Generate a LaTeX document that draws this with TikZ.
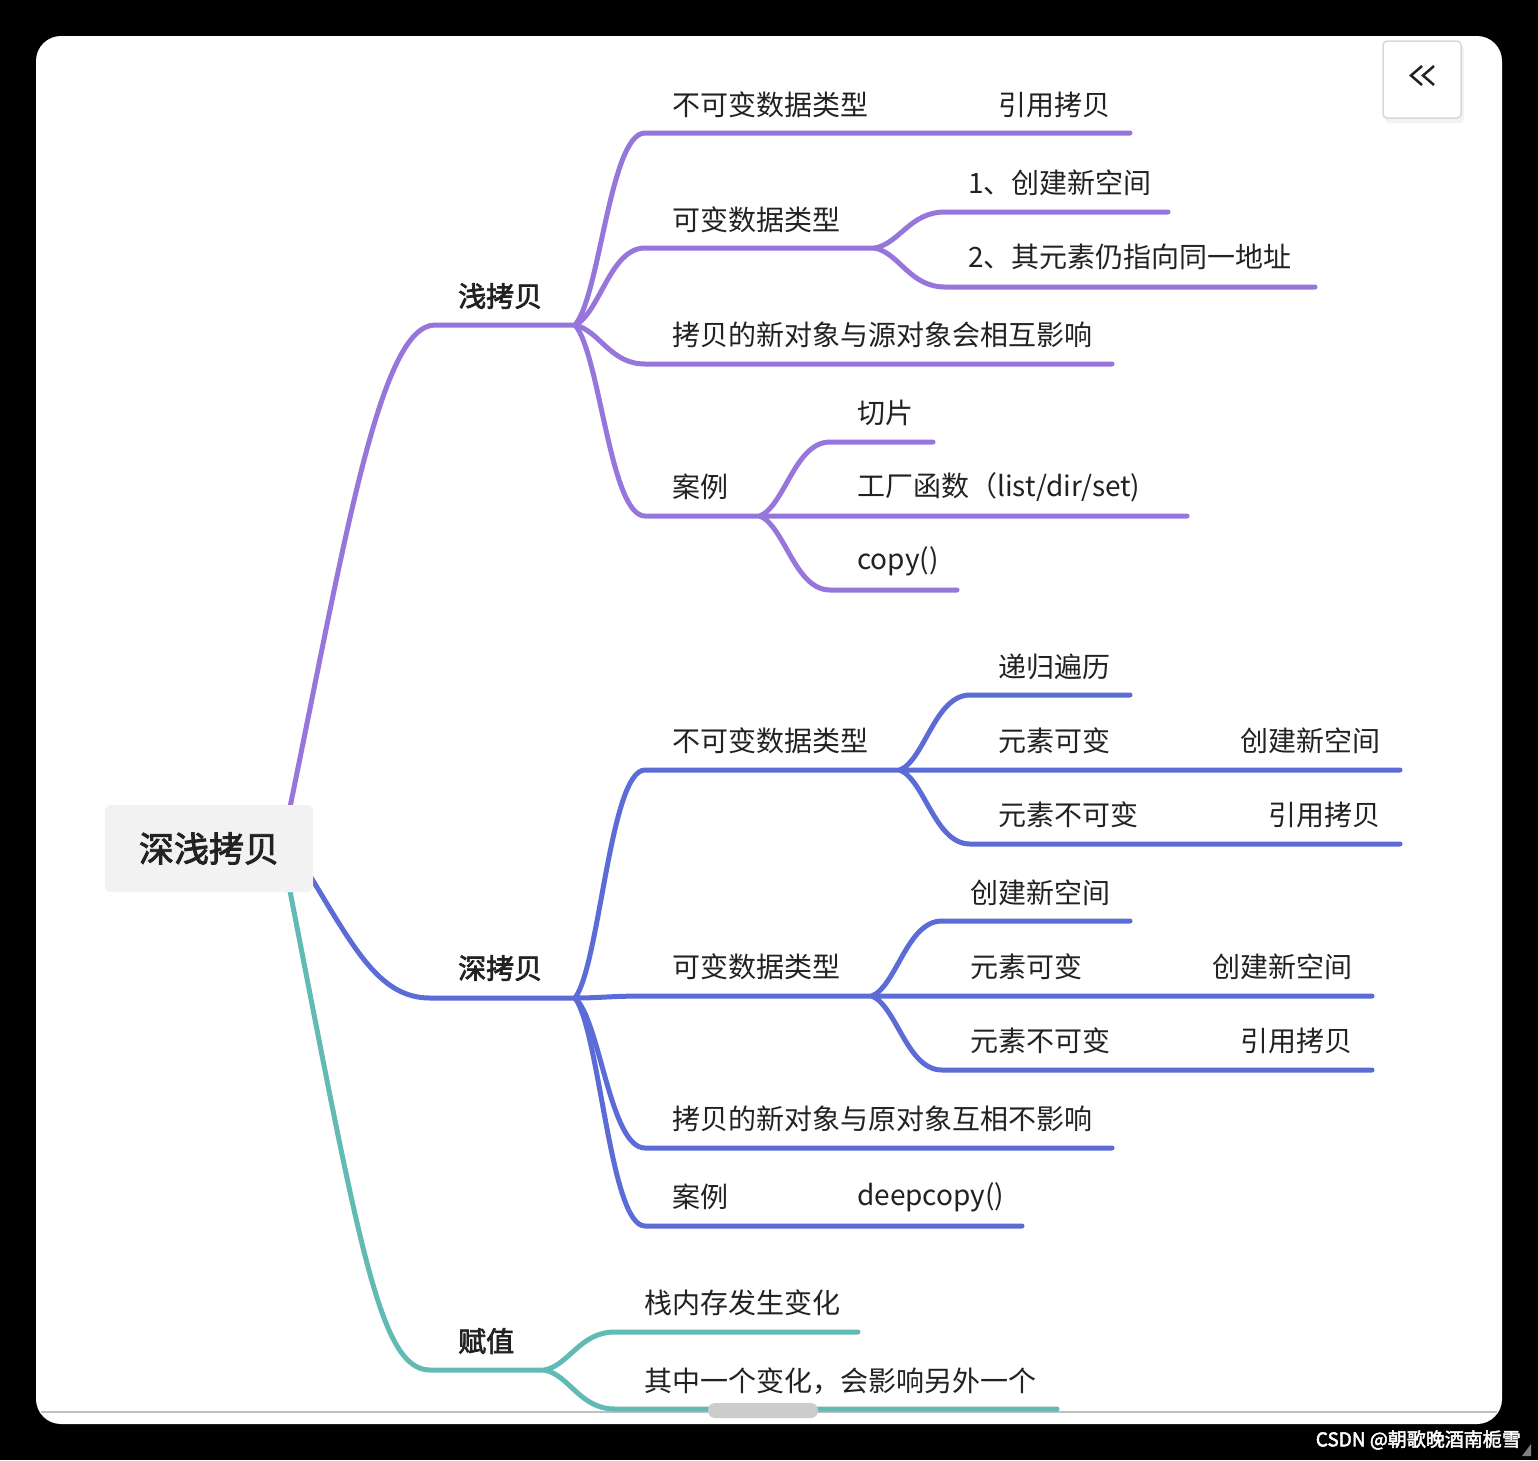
\documentclass[tikz,border=0pt]{standalone}
\usepackage{fontspec}
\newfontfamily\cjk{Noto Sans CJK SC}
\newfontfamily\cjkmid[FakeBold=2.5]{Noto Sans CJK SC}

\definecolor{shallowc}{RGB}{150,118,218}
\definecolor{deepc}{RGB}{92,108,214}
\definecolor{assignc}{RGB}{98,186,180}
\definecolor{inkc}{RGB}{34,34,34}
\definecolor{rootc}{RGB}{242,242,242}

\tikzset{
	branch/.style={line width=5pt, line cap=round, line join=round},
	shallow/.style={branch, draw=shallowc},
	deep/.style={branch, draw=deepc},
	assign/.style={branch, draw=assignc},
	lbl/.style={anchor=west, inner sep=0pt, text=inkc, font=\cjk\fontsize{28}{34}\selectfont},
	head/.style={lbl, font=\cjkmid\fontsize{28}{34}\selectfont},
	rootbox/.style={fill=rootc, rounded corners=6pt, minimum width=208pt, minimum height=87pt, text=inkc, font=\cjkmid\fontsize{35}{40}\selectfont},
}

\begin{document}
\begin{tikzpicture}[x=1pt, y=-1pt]

% frame
\fill[black] (0,0) rectangle (1538,1460);
\fill[white, rounded corners=25pt] (36,36) rectangle (1502,1424);
\draw[black!25, line width=2pt] (41,1412) -- (1497,1412);

% joints
\coordinate (rt) at (289,812);
\coordinate (rr) at (309,874);
\coordinate (rb) at (289,886);
\coordinate (s0) at (435,325);
\coordinate (sj) at (575,325);
\coordinate (d0) at (430,998);
\coordinate (dj) at (575,998);
\coordinate (t0) at (430,1370);
\coordinate (tj) at (545,1370);

% shallow copy
\draw[shallow] (rt) .. controls (345,540) and (380,325) .. (s0) -- (sj);
\node[head] (shallow) at (458,296) {浅拷贝};

\coordinate (a1) at (645,133);
\coordinate (a1e) at (880,133);
\draw[shallow] (sj) .. controls +(25,-29) and +(-35,0) .. (a1) -- (a1e) -- (1130,133);
\node[lbl] (a1t) at (672,105) {不可变数据类型};
\node[lbl] (a1u) at (998,105) {引用拷贝};

\coordinate (a2) at (645,248);
\coordinate (a2e) at (875,248);
\draw[shallow] (sj) .. controls +(25,-12) and +(-35,0) .. (a2) -- (a2e);
\draw[shallow] (a2e) .. controls +(25,-5) and +(-35,0) .. (945,212) -- (1168,212);
\draw[shallow] (a2e) .. controls +(25,6) and +(-35,0) .. (945,287) -- (1315,287);
\node[lbl] (a2t) at (672,220) {可变数据类型};
\node[lbl] (b1t) at (968,183) {1、创建新空间};
\node[lbl] (b2t) at (968,257) {2、其元素仍指向同一地址};

\coordinate (a3) at (645,364);
\draw[shallow] (sj) .. controls +(25,6) and +(-35,0) .. (a3) -- (1112,364);
\node[lbl] (a3t) at (672,335) {拷贝的新对象与源对象会相互影响};

\coordinate (a4) at (645,516);
\coordinate (a4e) at (760,516);
\draw[shallow] (sj) .. controls +(25,29) and +(-35,0) .. (a4) -- (a4e) -- (1187,516);
\draw[shallow] (a4e) .. controls +(25,-11) and +(-35,0) .. (830,442) -- (933,442);
\draw[shallow] (a4e) .. controls +(25,11) and +(-35,0) .. (830,590) -- (957,590);
\node[lbl] (a4t) at (672,487) {案例};
\node[lbl] (e1t) at (857,413) {切片};
\node[lbl] (e2t) at (857,487) {工厂函数（list/dir/set)};
\node[lbl] (e3t) at (857,561) {copy()};

% deep copy
\draw[deep] (rr) .. controls (355,950) and (380,998) .. (d0) -- (dj);
\node[head] (deep) at (458,968) {深拷贝};

\coordinate (c1) at (645,770);
\coordinate (c1e) at (900,770);
\draw[deep] (dj) .. controls +(25,-34) and +(-35,0) .. (c1) -- (c1e) -- (1400,770);
\draw[deep] (c1e) .. controls +(25,-11) and +(-35,0) .. (970,695) -- (1130,695);
\draw[deep] (c1e) .. controls +(25,11) and +(-35,0) .. (970,844) -- (1400,844);
\node[lbl] (c1t) at (672,741) {不可变数据类型};
\node[lbl] (f1t) at (998,667) {递归遍历};
\node[lbl] (f2t) at (998,741) {元素可变};
\node[lbl] (f2u) at (1240,741) {创建新空间};
\node[lbl] (f3t) at (998,815) {元素不可变};
\node[lbl] (f3u) at (1268,815) {引用拷贝};

\coordinate (c2) at (645,996);
\coordinate (c2e) at (872,996);
\draw[deep] (dj) .. controls +(25,0) and +(-35,0) .. (c2) -- (c2e) -- (1372,996);
\draw[deep] (c2e) .. controls +(25,-11) and +(-35,0) .. (942,921) -- (1130,921);
\draw[deep] (c2e) .. controls +(25,11) and +(-35,0) .. (942,1070) -- (1372,1070);
\node[lbl] (c2t) at (672,967) {可变数据类型};
\node[lbl] (g1t) at (970,893) {创建新空间};
\node[lbl] (g2t) at (970,967) {元素可变};
\node[lbl] (g2u) at (1212,967) {创建新空间};
\node[lbl] (g3t) at (970,1041) {元素不可变};
\node[lbl] (g3u) at (1240,1041) {引用拷贝};

\coordinate (c3) at (645,1148);
\draw[deep] (dj) .. controls +(25,22) and +(-35,0) .. (c3) -- (1112,1148);
\node[lbl] (c3t) at (672,1119) {拷贝的新对象与原对象互相不影响};

\coordinate (c4) at (645,1226);
\draw[deep] (dj) .. controls +(25,34) and +(-35,0) .. (c4) -- (1022,1226);
\node[lbl] (c4t) at (672,1197) {案例};
\node[lbl] (c4u) at (857,1197) {deepcopy()};

% assignment
\draw[assign] (rb) .. controls (360,1250) and (380,1370) .. (t0) -- (tj);
\node[head] (assign) at (458,1341) {赋值};
\draw[assign] (tj) .. controls +(25,-6) and +(-35,0) .. (615,1332) -- (858,1332);
\draw[assign] (tj) .. controls +(25,6) and +(-35,0) .. (615,1409) -- (1057,1409);
\node[lbl] (h1t) at (644,1303) {栈内存发生变化};
\node[lbl] (h2t) at (644,1381) {其中一个变化，会影响另外一个};

% root
\node[rootbox] (root) at (209,848.5) {深浅拷贝};

% scroll thumb and toggle button
\fill[black!20, rounded corners=7pt] (708,1403) rectangle (818,1418);
\fill[black!5, rounded corners=4pt] (1385,45) rectangle (1464,123);
\draw[black!15, fill=white, rounded corners=4pt, line width=1.5pt] (1383,41) rectangle (1461,118);
\draw[inkc, line width=2.5pt] (1422,66) -- (1411,75.5) -- (1422,85);
\draw[inkc, line width=2.5pt] (1434,66) -- (1423,75.5) -- (1434,85);

% watermark
\node[anchor=east, inner sep=0pt, text=white, font=\cjkmid\fontsize{19}{23}\selectfont] (mark) at (1521,1440) {CSDN @朝歌晚酒南栀雪};
\fill[black!50] (1531,1444) -- (1531,1456) -- (1522,1456) -- cycle;
\end{tikzpicture}
\end{document}
